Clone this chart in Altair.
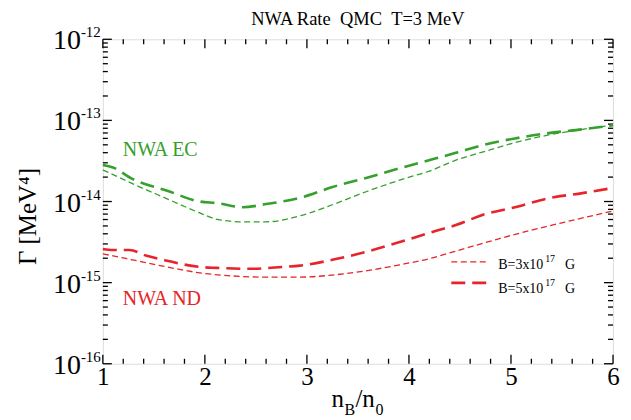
import altair as alt
import pandas as pd

# ---------------- data ----------------
x_ec_b5 = [1.0, 1.1, 1.29, 1.63, 1.95, 2.12, 2.37, 2.6, 2.96, 3.25, 3.58, 3.91, 4.23, 4.46, 4.72, 5.05, 5.37, 5.70, 6.0]
g_ec_b5 = [2.82e-14, 2.62e-14, 1.90e-14, 1.36e-14, 1.0e-14, 9.55e-15, 8.5e-15, 9.3e-15, 1.135e-14, 1.51e-14,
           1.95e-14, 2.57e-14, 3.31e-14, 3.98e-14, 4.95e-14, 6.03e-14, 6.97e-14, 7.76e-14, 8.7e-14]

x_ec_b3 = [1.0, 1.1, 1.29, 1.63, 1.95, 2.12, 2.37, 2.6, 2.96, 3.25, 3.58, 3.91, 4.23, 4.46, 4.72, 5.05, 5.37, 5.70, 6.0]
g_ec_b3 = [2.45e-14, 2.15e-14, 1.66e-14, 1.08e-14, 7.24e-15, 6.03e-15, 5.62e-15, 5.62e-15, 6.82e-15, 9.12e-15,
           1.32e-14, 1.84e-14, 2.45e-14, 3.24e-14, 4.07e-14, 5.37e-14, 6.61e-14, 7.76e-14, 8.7e-14]

x_nd_b5 = [1.0, 1.1, 1.26, 1.43, 1.63, 1.95, 2.12, 2.44, 2.76, 2.93, 3.25, 3.58, 3.91, 4.23, 4.46, 4.72, 5.05, 5.37, 5.70, 6.0]
g_nd_b5 = [2.6e-15, 2.53e-15, 2.53e-15, 2.14e-15, 1.86e-15, 1.56e-15, 1.52e-15, 1.48e-15, 1.56e-15, 1.62e-15,
           1.91e-15, 2.40e-15, 3.16e-15, 4.22e-15, 5.13e-15, 6.82e-15, 8.55e-15, 1.10e-14, 1.27e-14, 1.47e-14]

x_nd_b3 = [1.0, 1.1, 1.29, 1.63, 1.95, 2.27, 2.6, 2.93, 3.25, 3.58, 3.91, 4.23, 4.46, 4.88, 5.21, 5.54, 6.0]
g_nd_b3 = [2.26e-15, 2.14e-15, 1.91e-15, 1.56e-15, 1.32e-15, 1.21e-15, 1.17e-15, 1.17e-15, 1.24e-15, 1.40e-15,
           1.66e-15, 2.02e-15, 2.45e-15, 3.47e-15, 4.47e-15, 5.62e-15, 7.64e-15]

x_major = [1, 2, 3, 4, 5, 6]
x_minor = [1.2, 1.4, 1.6, 1.8, 2.2, 2.4, 2.6, 2.8, 3.2, 3.4, 3.6, 3.8, 4.2, 4.4, 4.6, 4.8, 5.2, 5.4, 5.6, 5.8]
y_major = [1e-16, 1e-15, 1e-14, 1e-13, 1e-12]
y_major_exp = ["-16", "-15", "-14", "-13", "-12"]
y_minor = [k * 10.0 ** e for e in [-16, -15, -14, -13] for k in range(2, 10)]

title_text = ["NWA Rate\u00a0\u00a0QMC\u00a0\u00a0T=3 MeV"]
ytitle_text = ["\u0393 [MeV\u2074]"]
ec_label = ["NWA EC"]
nd_label = ["NWA ND"]
legend_b3 = ["B=3x10", "17", "G"]
legend_b5 = ["B=5x10", "17", "G"]

# ---------------- styling ----------------
W, H = 511, 325
FONT = "Liberation Serif"
GREEN = "#35a02c"
RED = "#e62429"

xs = alt.Scale(domain=[1, 6], nice=False, zero=False)
ys = alt.Scale(type="log", domain=[1e-16, 1e-12], nice=False)
xaxis = alt.Axis(values=x_major, format="d", labelFont=FONT, labelFontSize=25, labelColor="black",
                 ticks=False, domain=False, grid=False, title=None, labelPadding=1, labelFlush=False)


def curve(xv, yv, color, dash, width):
    df = pd.DataFrame({"x": xv, "g": yv})
    return alt.Chart(df).mark_line(color=color, strokeDash=dash, strokeWidth=width,
                                   interpolate="monotone").encode(
        x=alt.X("x:Q", scale=xs, axis=xaxis),
        y=alt.Y("g:Q", scale=ys, axis=None))


def yticks(vals, length):
    df = pd.DataFrame({"g": vals})
    base = alt.Chart(df).mark_rule(color="black", strokeWidth=1.3)
    return [
        base.encode(y=alt.Y("g:Q", scale=ys, axis=None), x=alt.value(0), x2=alt.value(length)),
        base.encode(y=alt.Y("g:Q", scale=ys, axis=None), x=alt.value(W - length), x2=alt.value(W)),
    ]


def xticks(vals, length):
    df = pd.DataFrame({"x": vals})
    base = alt.Chart(df).mark_rule(color="black", strokeWidth=1.3)
    return [
        base.encode(x=alt.X("x:Q", scale=xs, axis=xaxis), y=alt.value(H), y2=alt.value(H - length)),
        base.encode(x=alt.X("x:Q", scale=xs, axis=xaxis), y=alt.value(0), y2=alt.value(length)),
    ]


def text(items, x, y, size, color="black", align="left", angle=0):
    df = pd.DataFrame({"t": items})
    kw = dict(font=FONT, fontSize=size, color=color, align=align, baseline="alphabetic")
    if angle:
        kw["angle"] = angle
    return alt.Chart(df).mark_text(**kw).encode(x=alt.value(x), y=alt.value(y), text="t:N")


def seg(x1, x2, y, color, dash, width):
    df = pd.DataFrame({"t": [0]})
    return alt.Chart(df).mark_rule(color=color, strokeDash=dash, strokeWidth=width).encode(
        x=alt.value(x1), x2=alt.value(x2), y=alt.value(y))


layers = []
layers += yticks(y_major, 9) + yticks(y_minor, 5)
layers += xticks(x_major, 9) + xticks(x_minor, 5)

layers += [
    curve(x_ec_b3, g_ec_b3, GREEN, [6, 3.5], 1.3),
    curve(x_ec_b5, g_ec_b5, GREEN, [14, 7], 2.6),
    curve(x_nd_b3, g_nd_b3, RED, [6, 3.5], 1.3),
    curve(x_nd_b5, g_nd_b5, RED, [14, 7], 2.6),
]

# y tick labels 10^n
ylab_df = pd.DataFrame({"g": y_major, "e": y_major_exp, "b": ["10"] * len(y_major)})
layers.append(alt.Chart(ylab_df).mark_text(font=FONT, fontSize=28, align="right", baseline="alphabetic",
                                           dx=-22, dy=10, color="black").encode(
    x=alt.value(0), y=alt.Y("g:Q", scale=ys, axis=None), text="b:N"))
layers.append(alt.Chart(ylab_df).mark_text(font=FONT, fontSize=15, align="left", baseline="alphabetic",
                                           dx=-22, dy=-2, color="black").encode(
    x=alt.value(0), y=alt.Y("g:Q", scale=ys, axis=None), text="e:N"))

# titles
layers.append(text(title_text, W / 2, -14, 18.5, align="center"))
layers.append(text(ytitle_text, -67, H / 2 + 15, 25, align="center", angle=270))
layers += [
    text(["n"], 229, 368, 25),
    text(["B"], 242, 376, 16),
    text(["/n"], 253, 368, 25),
    text(["0"], 273, 376, 16),
]

# curve labels
layers.append(text(ec_label, 20, 117, 20, color=GREEN))
layers.append(text(nd_label, 20, 266, 20, color=RED))

# legend
layers.append(seg(349, 387, 223, RED, [6, 3.5], 1.3))
layers.append(seg(349, 385, 244, RED, [14, 7], 2.6))
layers += [
    text([legend_b3[0]], 396, 230, 14),
    text([legend_b3[1]], 443, 223, 10),
    text([legend_b3[2]], 463, 230, 14),
    text([legend_b5[0]], 396, 254, 14),
    text([legend_b5[1]], 443, 247, 10),
    text([legend_b5[2]], 463, 254, 14),
]

chart = alt.layer(*layers).properties(
    width=W, height=H,
    padding={"left": 95, "top": 31, "right": 10, "bottom": 56},
    autosize="none",
).configure_view(stroke="black", strokeWidth=2).configure(background="white")

chart.save("out.html", embed_options={"renderer": "svg", "actions": False})
